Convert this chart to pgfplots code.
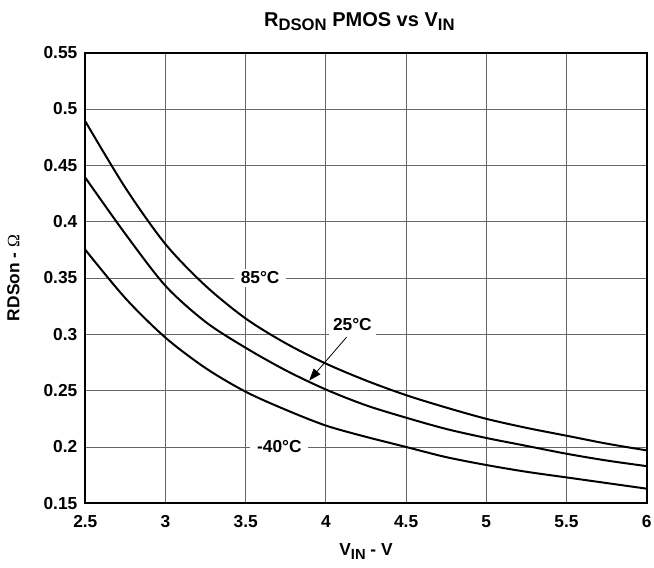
\documentclass[border=0pt]{standalone}
\usepackage{fontspec}
\setmainfont{Liberation Sans}
\newfontfamily\omegafont{Liberation Serif}
\usepackage{pgfplots}
\pgfplotsset{compat=1.18}
\usetikzlibrary{arrows.meta}
\begin{document}
\begin{tikzpicture}
\begin{axis}[
  scale only axis, width=421pt, height=338pt,
  xmin=2.5, xmax=6, ymin=0.15, ymax=0.55,
  xtick={2.5,3,3.5,4,4.5,5,5.5,6},
  ytick={0.15,0.2,0.25,0.3,0.35,0.4,0.45,0.5,0.55},
  xticklabels={2.5,3,3.5,4,4.5,5,5.5,6},
  yticklabels={0.15,0.2,0.25,0.3,0.35,0.4,0.45,0.5,0.55},
  grid=major,
  major grid style={black!60, line width=0.7pt},
  axis line style={line width=1.6pt},
  major tick length=0pt,
  ticklabel style={font=\fontsize{13}{13}\selectfont\bfseries},
  xticklabel style={anchor=center, yshift=-13.5pt},
  yticklabel style={anchor=east, xshift=-2.5pt},
  clip=false,
]
\addplot[black, line width=1.5pt, smooth] coordinates {
 (2.5,0.489) (2.75,0.430) (3.0,0.380) (3.25,0.343) (3.5,0.314) (3.75,0.292)
 (4.0,0.274) (4.25,0.259) (4.5,0.246) (4.75,0.235) (5.0,0.225) (5.25,0.217)
 (5.5,0.210) (5.75,0.203) (6.0,0.197)};
\addplot[black, line width=1.5pt, smooth] coordinates {
 (2.5,0.439) (2.75,0.389) (3.0,0.343) (3.25,0.311) (3.5,0.288) (3.75,0.268)
 (4.0,0.251) (4.25,0.237) (4.5,0.226) (4.75,0.216) (5.0,0.208) (5.25,0.201)
 (5.5,0.194) (5.75,0.188) (6.0,0.183)};
\addplot[black, line width=1.5pt, smooth] coordinates {
 (2.5,0.375) (2.75,0.332) (3.0,0.297) (3.25,0.270) (3.5,0.249) (3.75,0.233)
 (4.0,0.219) (4.25,0.209) (4.5,0.200) (4.75,0.191) (5.0,0.184) (5.25,0.178)
 (5.5,0.173) (5.75,0.168) (6.0,0.163)};
\node[fill=white, inner xsep=5pt, inner ysep=2pt, font=\fontsize{13}{13}\selectfont\bfseries] at (axis cs:3.59,0.35) {85°C};
\node[fill=white, inner xsep=3pt, inner ysep=4pt, font=\fontsize{13}{13}\selectfont\bfseries] at (axis cs:4.165,0.309) {25°C};
\node[fill=white, inner xsep=5pt, inner ysep=2pt, font=\fontsize{13}{13}\selectfont\bfseries] at (axis cs:3.71,0.2) {-40°C};
\draw[line width=0.6pt, -{Triangle[length=9pt,width=6.5pt]}] (axis cs:4.129,0.2975) -- (axis cs:3.896,0.259);
\node[anchor=base, font=\fontsize{15}{15}\selectfont\bfseries] at ([xshift=-5pt,yshift=19.3pt]rel axis cs:0.5,1) {R\raisebox{-2.5pt}{\fontsize{12.5}{12.5}\selectfont DSON} PMOS vs V\raisebox{-2.5pt}{\fontsize{12.5}{12.5}\selectfont IN}};
\node[anchor=base, font=\fontsize{13}{13}\selectfont\bfseries] at ([yshift=-39pt]rel axis cs:0.5,0) {V\raisebox{-3pt}{\fontsize{11}{11}\selectfont IN} - V};
\node[rotate=90, anchor=center, font=\fontsize{13}{13}\selectfont\bfseries] at ([xshift=-54pt]rel axis cs:0,0.5) {RDSon - {\omegafont\mdseries Ω}};
\coordinate (bl) at (rel axis cs:0,0);
\coordinate (tr) at (rel axis cs:1,1);
\end{axis}
\pgfresetboundingbox
\path[use as bounding box] ([xshift=-64pt,yshift=-48.5pt]bl) rectangle ([xshift=5.5pt,yshift=39.5pt]tr);
\end{tikzpicture}
\end{document}
